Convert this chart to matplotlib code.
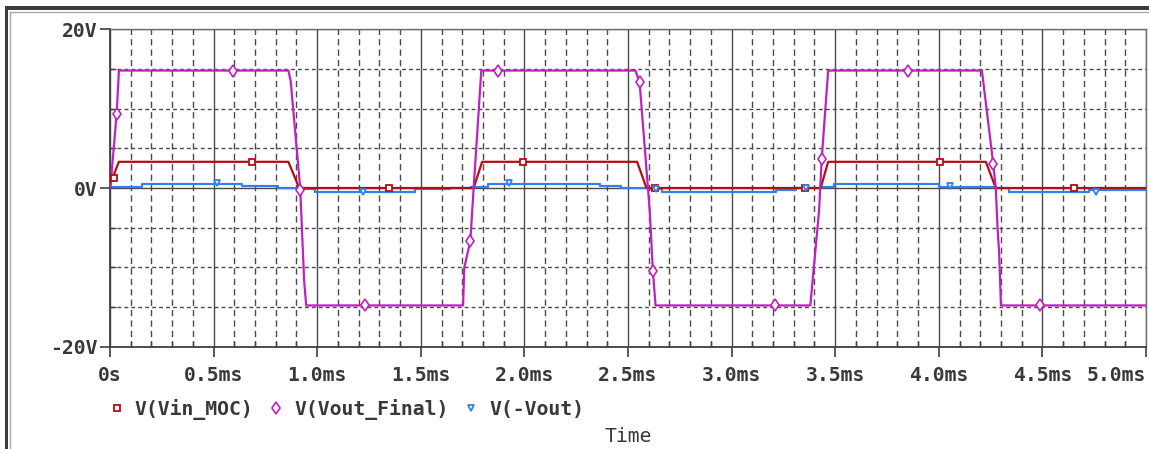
import matplotlib.pyplot as plt
from matplotlib.lines import Line2D
from matplotlib.patches import Rectangle
from matplotlib.ticker import MultipleLocator

# time in ms, voltage in V
t_vin = [0, 0.005, 0.043, 0.861, 0.913, 1.755, 1.796, 2.544, 2.589,
         3.43, 3.466, 4.227, 4.275, 5.0]
v_vin = [0, 0.8, 3.3, 3.3, 0, 0, 3.3, 3.3, 0, 0, 3.3, 3.3, 0, 0]

t_vfinal = [0, 0.008, 0.032, 0.043, 0.861, 0.872, 0.918, 0.937, 0.947,
            1.704, 1.71, 1.739, 1.755, 1.792, 2.536, 2.556, 2.605, 2.62, 2.633,
            3.38, 3.422, 3.435, 3.466, 4.208, 4.263, 4.275, 4.283, 4.291, 4.30, 5.0]
v_vfinal = [0, 2, 9.3, 14.8, 14.8, 13.5, 0, -11.7, -14.8,
            -14.8, -10, -6.7, 0, 14.8, 14.8, 13.3, -2.9, -10.4, -14.8,
            -14.8, -2.9, 3.7, 14.8, 14.8, 3.0, 0, -4.8, -8.1, -14.8, -14.8]

t_vout = [0, 0.153, 0.637, 0.81, 0.92, 0.99, 1.473, 1.64, 1.74, 1.826, 2.367,
          2.464, 2.60, 2.665, 3.213, 3.31, 3.43, 3.494, 4.002, 4.275, 4.338,
          4.725, 5.0]
v_vout = [0.1, 0.55, 0.3, 0.05, -0.1, -0.5, -0.15, 0.0, 0.1, 0.55, 0.25,
          0.0, -0.1, -0.55, -0.25, 0.0, 0.1, 0.5, 0.1, -0.05, -0.5,
          -0.25, -0.25]

# probe symbols along each trace
vin_mark_t = [0.019, 0.684, 1.348, 1.992, 2.628, 3.353, 4.005, 4.654]
vin_mark_v = [1.3, 3.3, 0, 3.3, 0, 0, 3.3, 0]
vfinal_mark_t = [0.032, 0.593, 0.918, 1.229, 1.739, 1.873, 2.556, 2.62,
                 3.21, 3.435, 3.853, 4.263, 4.49]
vfinal_mark_v = [9.3, 14.7, -0.3, -14.8, -6.7, 14.7, 13.3, -10.4,
                 -14.8, 3.7, 14.7, 3.0, -14.8]
vout_mark_t = [0.515, 1.221, 1.924, 2.633, 3.357, 4.055, 4.758]
vout_mark_v = [0.6, -0.5, 0.6, -0.1, 0.0, 0.2, -0.5]

x_ticks = [0, 0.5, 1.0, 1.5, 2.0, 2.5, 3.0, 3.5, 4.0, 4.5, 5.0]
x_labels = ['0s', '0.5ms', '1.0ms', '1.5ms', '2.0ms', '2.5ms', '3.0ms',
            '3.5ms', '4.0ms', '4.5ms', '5.0ms']
y_ticks = [-20, 0, 20]
y_labels = ['-20V', '0V', '20V']

RED = '#b01010'
MAG = '#c020c0'
BLUE = '#3080f0'
GRID = '#4a4a4a'
TXT = '#383838'

plt.rcParams['font.family'] = 'DejaVu Sans Mono'
plt.rcParams['font.weight'] = 'bold'

W, H = 1149, 449
fig = plt.figure(figsize=(W / 100, H / 100), dpi=100)
ax = fig.add_axes([110 / W, (H - 346.7) / H, (1146 - 110) / W, (346.7 - 29.3) / H])

ax.plot(t_vout, v_vout, color=BLUE, lw=1.6, drawstyle='steps-post', zorder=3)
ax.plot(t_vin, v_vin, color=RED, lw=1.6, zorder=4)
ax.plot(t_vfinal, v_vfinal, color=MAG, lw=1.6, zorder=5)

ax.plot(vin_mark_t, vin_mark_v, ls='none', marker='s', ms=5, mfc='white',
        mec=RED, mew=1.3, zorder=6)
ax.plot(vfinal_mark_t, vfinal_mark_v, ls='none', marker='d', ms=6, mfc='white',
        mec=MAG, mew=1.2, zorder=6)
ax.plot(vout_mark_t, vout_mark_v, ls='none', marker='v', ms=5, mfc='white',
        mec=BLUE, mew=1.3, zorder=6)

ax.set_xlim(0, 5)
ax.set_ylim(-20, 20)
ax.set_xticks(x_ticks, x_labels)
ax.set_yticks(y_ticks, y_labels)
ax.xaxis.set_minor_locator(MultipleLocator(0.1))
ax.yaxis.set_minor_locator(MultipleLocator(5))
ax.get_xticklabels()[-1].set_horizontalalignment('right')

ax.grid(which='major', color=GRID, lw=1, ls='-', zorder=1)
ax.xaxis.grid(which='minor', color=GRID, lw=1, ls=(0, (4.5, 3)))
ax.yaxis.grid(which='minor', color=GRID, lw=1, ls=(0, (2.8, 2.2)))
ax.set_axisbelow(True)

ax.tick_params(which='major', direction='out', length=7, width=1.2,
               color='#404040', labelsize=14.2, labelcolor=TXT)
ax.tick_params(axis='x', which='major', pad=7)
ax.tick_params(axis='y', which='major', pad=2)
ax.tick_params(which='minor', direction='in', length=4, width=1, color='#404040')
for side in ['left', 'bottom']:
    ax.spines[side].set_color('#404040')
    ax.spines[side].set_linewidth(1.3)
for side in ['top', 'right']:
    ax.spines[side].set_color('#707070')
    ax.spines[side].set_linewidth(1)

ax.set_xlabel('Time', fontsize=14.2, color=TXT, labelpad=30)

handles = [
    Line2D([], [], ls='none', marker='s', ms=5, mfc='white', mec=RED, mew=1.3,
           label='V(Vin_MOC)'),
    Line2D([], [], ls='none', marker='d', ms=6, mfc='white', mec=MAG, mew=1.2,
           label='V(Vout_Final)'),
    Line2D([], [], ls='none', marker='v', ms=5, mfc='white', mec=BLUE, mew=1.3,
           label='V(-Vout)'),
]
leg = fig.legend(handles=handles, loc='center left',
                 bbox_to_anchor=(107 / W, 1 - 409 / H), ncol=3, frameon=False,
                 handlelength=1.0, handletextpad=0.41, columnspacing=0.65,
                 borderpad=0, borderaxespad=0, fontsize=14.2)
for txt in leg.get_texts():
    txt.set_color(TXT)

# probe window frame
fig.add_artist(Rectangle((5 / W, 1 - 10 / H), 1 - 5 / W, 4 / H,
                         transform=fig.transFigure, color='#3c3c3c', lw=0))
fig.add_artist(Rectangle((5 / W, 0), 3 / W, 1 - 6 / H,
                         transform=fig.transFigure, color='#3c3c3c', lw=0))
fig.add_artist(Line2D([10 / W, 1], [1 - 12 / H, 1 - 12 / H],
                      transform=fig.transFigure, color='#a8a8a8', lw=1))
fig.add_artist(Line2D([10 / W, 10 / W], [0, 1 - 12 / H],
                      transform=fig.transFigure, color='#a8a8a8', lw=1))

fig.savefig('out.png', dpi=100)
